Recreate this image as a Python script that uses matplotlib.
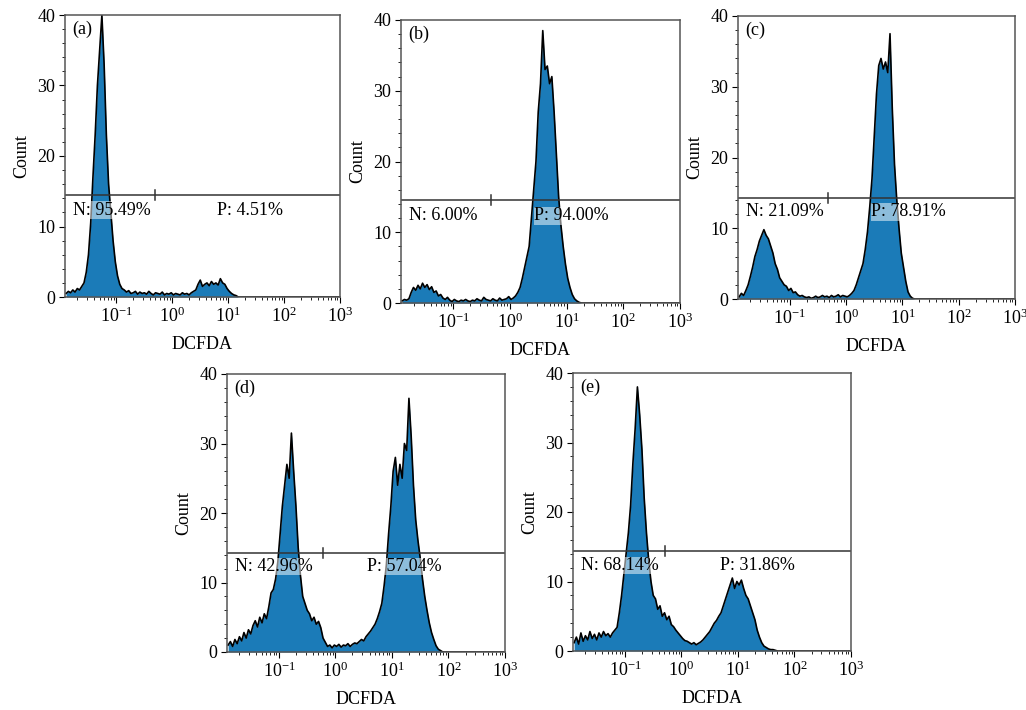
import matplotlib
matplotlib.use("Agg")
import matplotlib.pyplot as plt
import numpy as np

plt.rcParams['font.family'] = ['Liberation Serif', 'DejaVu Serif']
plt.rcParams['mathtext.fontset'] = 'stix'

# histogram bins: log10(DCFDA) from -1.92 to 3.0, 0.04 decade wide
log_lo, log_hi, n_bins = -1.92, 3.0, 123

panel_tags = ["(a)", "(b)", "(c)", "(d)", "(e)"]
n_labels = ["N: 95.49%", "N: 6.00%", "N: 21.09%", "N: 42.96%", "N: 68.14%"]
p_labels = ["P: 4.51%", "P: 94.00%", "P: 78.91%", "P: 57.04%", "P: 31.86%"]
p_label_x = [6.3, 2.7, 2.8, 3.6, 4.8]       # DCFDA value where the P text starts
gate_y = [14.5, 14.6, 14.3, 14.2, 14.4]      # marker line height (count)
gate_split = [0.5, 0.47, 0.48, 0.6, 0.52]    # N / P divider on the DCFDA axis

counts_a = [0.5, 0.8, 0.6, 1.0, 0.7, 1.2, 1.0, 1.5, 2.0, 3.5,
            6, 10.5, 17, 23, 30, 35, 40, 33, 23, 16,
            12, 8, 5, 3, 1.8, 1.2,
            1.0, 0.7, 0.9, 0.5, 0.6, 0.8, 0.4, 0.7, 0.5, 0.6,
            0.4, 0.8, 0.5, 0.3, 0.6, 0.5, 0.4, 0.7, 0.3, 0.5,
            0.4, 0.6, 0.3, 0.5, 0.4, 0.3, 0.6, 0.4, 0.5, 0.3,
            0.6, 0.8,
            1.0, 1.8, 2.4, 1.5, 1.8, 2.0, 1.6, 2.2, 1.8, 2.0,
            1.7, 2.6, 2.0, 1.8, 1.2, 0.8, 0.5, 0.3, 0.2]

counts_b = [0.3, 0.5, 0.4, 0.6,
            1.5, 2.2, 1.8, 2.5, 2.0, 2.8, 2.2, 2.6, 1.9, 2.3,
            1.5, 1.7, 1.0, 1.2, 0.7, 0.5, 0.8,
            0.4, 0.2, 0.5, 0.3, 0.2, 0.4, 0.3, 0.5, 0.3, 0.2,
            0.4, 0.3, 0.6, 0.4, 0.3, 0.8, 0.5, 0.4, 0.3, 0.6,
            0.4, 0.3, 0.7, 0.4, 0.5, 0.6, 0.9, 0.5, 0.7, 1.0,
            1.5, 2.2, 3.5, 5.0, 6.5, 8.0, 12, 16, 20, 27,
            31, 38.5, 33, 33.5, 31, 32, 27, 21, 15, 11,
            8, 5.5, 3.5, 2.2, 1.2, 0.6, 0.3, 0.1]

counts_c = [0.3, 0.8, 0.5, 1.2, 2.0, 3.2, 4.5, 6.0, 7.0, 8.2,
            9.0, 9.8, 9.0, 8.5, 7.5, 6.5, 5.0, 4.2, 3.0, 2.5,
            2.0, 1.8, 1.2, 1.5, 0.9, 1.0, 0.6, 0.4, 0.5, 0.3,
            0.2, 0.3, 0.1, 0.2, 0.4, 0.2, 0.3, 0.5, 0.3, 0.4,
            0.2, 0.5, 0.3, 0.4, 0.6, 0.3, 0.5, 0.4, 0.3, 0.5,
            0.8, 1.2, 2.0, 3.0, 4.0, 5.0, 7.0, 9.5, 13, 17,
            23, 29, 33, 34, 32.5, 33.5, 32, 37.5, 27, 19,
            14, 10, 6.5, 4.5, 2.5, 1.0, 0.4, 0.1]

counts_d = [1.0, 1.5, 0.8, 1.8, 1.2, 2.2, 1.6, 2.8, 2.0, 3.2,
            2.6, 3.8, 4.5, 3.6, 5.0, 4.2, 5.5, 4.8, 6.5, 8.5,
            9.0, 10.5, 13, 17, 21, 24, 27, 25, 31.5, 26,
            21, 15, 11, 8, 7, 6, 5.5, 4.5, 5.0, 4.0,
            4.4, 3.5, 2.0, 1.4, 0.8, 1.0,
            0.6, 1.0, 0.8, 1.1, 0.7, 1.0, 0.9, 1.2, 0.8, 1.1,
            1.3, 1.2,
            1.5, 1.8, 1.6, 2.2, 2.6, 3.0, 3.5, 4.0, 4.8, 5.8,
            7.0, 9.5, 12.5, 17, 21, 26, 28, 24, 27, 25,
            30, 29, 36.5, 31, 24, 19, 16, 13.5, 10.5, 8,
            6, 4.2, 2.8, 1.8, 0.9, 0.4, 0.2]

counts_e = [1.2, 2.0, 1.0, 2.6, 1.4, 2.2, 1.6, 2.8, 1.8, 2.4,
            1.6, 2.6, 2.0, 2.8, 2.2, 2.5, 2.0, 2.6, 3.0, 3.4,
            5.5, 8.0, 11, 14, 17, 21, 27, 32, 38, 34,
            29, 22, 17, 13, 10, 8, 7.5, 6, 6.5, 5,
            5.5, 4.5, 5, 3.8, 3.5, 3.0, 2.6, 2.2, 1.8, 1.5,
            1.4, 1.2, 1.0, 1.2, 0.9, 1.1, 1.3, 1.6, 2.0, 2.4,
            2.8, 3.4, 4.0, 4.4, 5.0, 5.5, 6.5, 7.5, 8.5, 9.5,
            10.5, 9, 10, 9.5, 10.2, 9, 8, 7.5, 6.5, 5.5,
            4.5, 3, 2, 1.2, 0.7, 0.5, 0.3, 0.2, 0.2, 0.1]

all_counts = [counts_a, counts_b, counts_c, counts_d, counts_e]

# axes boxes in pixels: left, top, right, bottom
boxes = [(65, 15, 340, 297), (401, 20, 680, 303), (738, 16, 1015, 299),
         (227, 374, 505, 652), (573, 373, 851, 651)]

W, H = 1026, 710
fig = plt.figure(figsize=(W / 100, H / 100), dpi=100)
centers = 10 ** (log_lo + 0.02 + 0.04 * np.arange(n_bins))
blue = '#1b7bb8'
fs = 13

for k in range(5):
    l, t, r, b = boxes[k]
    ax = fig.add_axes([l / W, 1 - b / H, (r - l) / W, (b - t) / H])
    c = np.zeros(n_bins)
    c[:len(all_counts[k])] = all_counts[k]
    ax.fill_between(centers, c, color=blue, lw=0)
    ax.plot(centers, c, color='black', lw=1.2)

    ax.set_xscale('log')
    ax.set_xlim(10 ** log_lo, 10 ** log_hi)
    ax.set_ylim(0, 40)
    ax.set_xticks([0.1, 1, 10, 100, 1000])
    ax.set_yticks([0, 10, 20, 30, 40])
    ax.set_yticks(np.arange(0, 41, 2), minor=True)
    ax.tick_params(which='major', labelsize=fs, length=4, width=0.8, pad=3)
    ax.tick_params(which='minor', length=2.5, width=0.6)
    for s in ax.spines.values():
        s.set_color('#555555')
        s.set_linewidth(1.1)

    # gate line with the N/P divider
    ax.axhline(gate_y[k], color='#333333', lw=1.1)
    ax.plot([gate_split[k]] * 2, [gate_y[k] - 0.7, gate_y[k] + 0.7], color='#333333', lw=1.1)

    box = dict(facecolor='white', alpha=0.5, edgecolor='none', pad=0.3)
    ax.text(0.03, 12.3, n_labels[k], transform=ax.get_yaxis_transform(),
            fontsize=fs, va='center', ha='left', bbox=box)
    ax.text(p_label_x[k], 12.3, p_labels[k], fontsize=fs, va='center', ha='left', bbox=box)
    ax.text(0.025, 0.95, panel_tags[k], transform=ax.transAxes, fontsize=fs, va='center')

    ax.set_xlabel('DCFDA', fontsize=fs, labelpad=7)
    ax.set_ylabel('Count', fontsize=fs, labelpad=5)

fig.savefig('out.png', dpi=100)
